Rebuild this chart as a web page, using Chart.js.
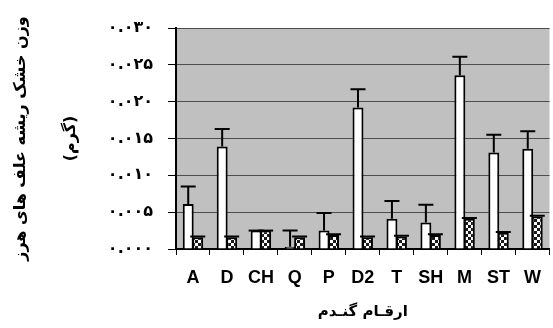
<!DOCTYPE html>
<html>
<head>
<meta charset="utf-8">
<script src="https://cdn.jsdelivr.net/npm/chart.js@4"></script>
<style>
  html, body { margin: 0; padding: 0; background: #fff; }
  #wrap { width: 553px; height: 328px; }
</style>
</head>
<body>
<div id="wrap"><canvas id="c" width="553" height="328"></canvas></div>
<script>
const categories = ['A', 'D', 'CH', 'Q', 'P', 'D2', 'T', 'SH', 'M', 'ST', 'W'];
const whiteMeans = [0.0061, 0.0139, 0.0025, 0.0003, 0.0025, 0.0192, 0.0041, 0.0036, 0.0236, 0.0131, 0.0136];
const whiteErrors = [0.0024, 0.0024, 0.0000, 0.0022, 0.0024, 0.0025, 0.0024, 0.0024, 0.0025, 0.0024, 0.0024];
const patternMeans = [0.0016, 0.0016, 0.0025, 0.0016, 0.0019, 0.0016, 0.0017, 0.0019, 0.0041, 0.0022, 0.0044];
const patternErrors = [0.0001, 0.0001, 0.0000, 0.0001, 0.0001, 0.0001, 0.0001, 0.0001, 0.0001, 0.0001, 0.0001];
const yTickLabels = ['۰.۰۰۰', '۰.۰۰۵', '۰.۰۱۰', '۰.۰۱۵', '۰.۰۲۰', '۰.۰۲۵', '۰.۰۳۰'];
const yTitle = ['وزن خشک ریشه علف های هرز', '(گرم)'];
const xTitle = 'ارقـام گنـدم';

function makePattern() {
  const p = document.createElement('canvas');
  p.width = 6; p.height = 6;
  const g = p.getContext('2d');
  g.fillStyle = '#1a1a1a'; g.fillRect(0, 0, 6, 6);
  g.fillStyle = '#ffffff';
  g.fillRect(0, 0, 3, 3); g.fillRect(3, 3, 3, 3);
  return g.createPattern(p, 'repeat');
}

const plotBg = {
  id: 'plotBg',
  beforeDraw(chart) {
    const {ctx, chartArea: a} = chart;
    ctx.save();
    ctx.fillStyle = '#c0c0c0';
    ctx.fillRect(a.left, a.top, a.right - a.left, a.bottom - a.top);
    ctx.restore();
  }
};

const errorBars = {
  id: 'errorBars',
  afterDatasetsDraw(chart) {
    const ctx = chart.ctx, y = chart.scales.y;
    chart.data.datasets.forEach((ds, di) => {
      const meta = chart.getDatasetMeta(di);
      meta.data.forEach((bar, i) => {
        const top = y.getPixelForValue(ds.data[i] + ds.errors[i]);
        ctx.save();
        ctx.strokeStyle = '#000';
        ctx.lineWidth = 2;
        ctx.beginPath();
        ctx.moveTo(bar.x, bar.y);
        ctx.lineTo(bar.x, top);
        ctx.moveTo(bar.x - 7.5, top);
        ctx.lineTo(bar.x + 7.5, top);
        ctx.stroke();
        ctx.restore();
      });
    });
  }
};

new Chart(document.getElementById('c'), {
  type: 'bar',
  data: {
    labels: categories,
    datasets: [
      { data: whiteMeans, errors: whiteErrors, backgroundColor: '#ffffff', borderColor: '#000', borderWidth: 2, borderSkipped: 'bottom',
        categoryPercentage: 0.56, barPercentage: 1.15 },
      { data: patternMeans, errors: patternErrors, backgroundColor: makePattern(), borderColor: '#000', borderWidth: 2, borderSkipped: 'bottom',
        categoryPercentage: 0.56, barPercentage: 1.15 }
    ]
  },
  options: {
    responsive: false,
    animation: false,
    events: [],
    layout: { padding: { top: 28, right: 0, bottom: 0, left: 0 } },
    plugins: { legend: { display: false }, tooltip: { enabled: false } },
    scales: {
      x: {
        afterFit(s) { s.height = 79; },
        grid: { display: true, drawOnChartArea: false, drawTicks: true, tickLength: 6, tickColor: '#000', offset: true },
        border: { display: true, color: '#000', width: 2 },
        ticks: { color: '#000', padding: 12, maxRotation: 0, autoSkip: false,
          font: { family: "'Liberation Sans', Arial, sans-serif", size: 18, weight: 'bold' } },
        title: { display: true, text: xTitle, color: '#000', padding: { top: 0, bottom: 7 },
          font: { family: "'DejaVu Sans', sans-serif", size: 15, weight: 'bold', lineHeight: 1.2 } }
      },
      y: {
        min: 0, max: 0.03,
        afterFit(s) { s.width = 176; },
        ticks: { stepSize: 0.005, color: '#000', padding: 15,
          callback: (v, i) => yTickLabels[i],
          font: { family: "'DejaVu Sans', sans-serif", size: 16, weight: 'bold' } },
        grid: { color: '#4d4d4d', lineWidth: 1, tickColor: '#000', tickLength: 8 },
        border: { display: true, color: '#000', width: 2 },
        title: { display: true, text: yTitle, color: '#000', padding: { top: -4, bottom: 0 },
          font: { family: "'DejaVu Sans', sans-serif", size: 16, weight: 'bold', lineHeight: '50px' } }
      }
    }
  },
  plugins: [plotBg, errorBars]
});
</script>
</body>
</html>
